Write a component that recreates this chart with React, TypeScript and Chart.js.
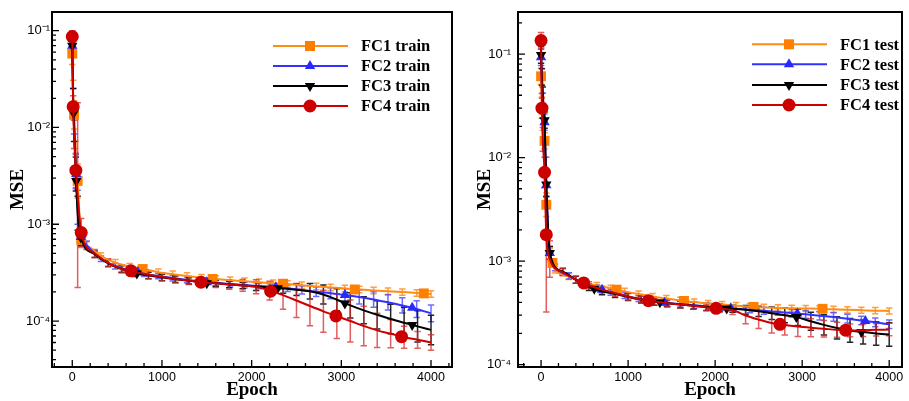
import React, { useEffect, useRef } from "react";
import { Chart, registerables } from "chart.js";

Chart.register(...registerables);

// ---------------- data ----------------
const EPOCHS_A = [0, 10, 20, 40, 60, 100, 160, 320, 480, 640, 800, 960, 1120, 1280, 1440, 1600, 1760, 1920, 2080, 2240, 2400, 2560, 2720, 2880, 3040, 3200, 3360, 3520, 3680, 3840, 4000];
const EPOCHS_B = [0, 10, 20, 40, 60, 100, 250, 400, 550, 700, 850, 1000, 1150, 1300, 1450, 1600, 1750, 1900, 2050, 2200, 2350, 2500, 2650, 2800, 2950, 3100, 3250, 3400, 3550, 3700, 3850, 4000];

const X_TICKS = [0, 1000, 2000, 3000, 4000];
const Y_TICKS = [1e-4, 1e-3, 1e-2, 1e-1];
const SERIES_NAMES = ["FC1", "FC2", "FC3", "FC4"];

// train MSE
const TRAIN_FC1 = [0.058, 0.022, 0.0135, 0.0048, 0.0028, 6.9e-4, 6.0e-4, 4.7e-4, 4.0e-4, 3.65e-4, 3.45e-4, 3.2e-4, 3.05e-4, 2.92e-4, 2.8e-4, 2.72e-4, 2.64e-4, 2.57e-4, 2.51e-4, 2.46e-4, 2.41e-4, 2.34e-4, 2.28e-4, 2.22e-4, 2.17e-4, 2.12e-4, 2.07e-4, 2.03e-4, 1.99e-4, 1.95e-4, 1.9e-4];
const TRAIN_FC2 = [0.07, 0.018, 0.012, 0.0035, 0.0015, 7.5e-4, 6.1e-4, 4.4e-4, 3.7e-4, 3.33e-4, 3.08e-4, 2.92e-4, 2.78e-4, 2.66e-4, 2.56e-4, 2.48e-4, 2.41e-4, 2.35e-4, 2.3e-4, 2.25e-4, 2.18e-4, 2.09e-4, 2.01e-4, 1.94e-4, 1.86e-4, 1.77e-4, 1.67e-4, 1.56e-4, 1.45e-4, 1.33e-4, 1.2e-4];
const TRAIN_FC3 = [0.07, 0.018, 0.01, 0.0033, 0.0013, 7.2e-4, 4.9e-4, 3.95e-4, 3.45e-4, 3.12e-4, 2.95e-4, 2.82e-4, 2.7e-4, 2.6e-4, 2.52e-4, 2.45e-4, 2.39e-4, 2.33e-4, 2.28e-4, 2.22e-4, 2.17e-4, 2.11e-4, 2.03e-4, 1.88e-4, 1.66e-4, 1.45e-4, 1.29e-4, 1.16e-4, 1.05e-4, 9.6e-5, 8.8e-5, 8.1e-5];
const TRAIN_FC4 = [0.087, 0.0164, 0.0085, 0.0036, 0.002, 8.2e-4, 5.0e-4, 4.0e-4, 3.45e-4, 3.2e-4, 3.0e-4, 2.86e-4, 2.72e-4, 2.62e-4, 2.52e-4, 2.45e-4, 2.39e-4, 2.33e-4, 2.26e-4, 2.06e-4, 1.85e-4, 1.63e-4, 1.43e-4, 1.26e-4, 1.12e-4, 1.0e-4, 8.9e-5, 8.0e-5, 7.4e-5, 6.8e-5, 6.4e-5, 6.0e-5];

// train error-bar spread (multiplicative factor)
const TRAIN_FC1_ERR = [1.3, 1.4, 1.4, 1.5, 1.5, 1.2, 1.1, 1.08, 1.08, 1.08, 1.08, 1.08, 1.08, 1.08, 1.08, 1.08, 1.08, 1.08, 1.08, 1.08, 1.08, 1.08, 1.08, 1.08, 1.08, 1.08, 1.08, 1.08, 1.08, 1.08, 1.08];
const TRAIN_FC2_ERR = [1.3, 1.4, 1.4, 1.5, 1.5, 1.2, 1.1, 1.07, 1.07, 1.07, 1.07, 1.07, 1.07, 1.07, 1.07, 1.07, 1.07, 1.07, 1.07, 1.07, 1.08, 1.1, 1.12, 1.14, 1.16, 1.18, 1.2, 1.2, 1.2, 1.22, 1.22];
const TRAIN_FC3_ERR = [1.3, 1.4, 1.4, 1.5, 1.5, 1.2, 1.08, 1.08, 1.08, 1.08, 1.08, 1.08, 1.08, 1.08, 1.08, 1.08, 1.08, 1.08, 1.1, 1.1, 1.12, 1.15, 1.2, 1.25, 1.3, 1.35, 1.38, 1.4, 1.42, 1.45, 1.45, 1.42];
const TRAIN_FC4_ERR = [1.15, 1.3, 1.4, 1.5, 9, 1.4, 1.1, 1.1, 1.1, 1.1, 1.1, 1.1, 1.1, 1.1, 1.1, 1.1, 1.12, 1.15, 1.18, 1.25, 1.4, 1.5, 1.6, 1.65, 1.7, 1.65, 1.6, 1.5, 1.4, 1.3, 1.22, 1.2];

// train symbol positions
const TRAIN_FC1_MX = [0, 20, 60, 100, 785, 1565, 2350, 3150, 3920];
const TRAIN_FC1_MY = [0.058, 0.0135, 0.0028, 6.9e-4, 3.45e-4, 2.72e-4, 2.43e-4, 2.12e-4, 1.93e-4];
const TRAIN_FC2_MX = [0, 15, 45, 95, 730, 1500, 2270, 3040, 3790];
const TRAIN_FC2_MY = [0.07, 0.016, 0.0033, 7.4e-4, 3.22e-4, 2.52e-4, 2.23e-4, 1.86e-4, 1.37e-4];
const TRAIN_FC3_MX = [0, 15, 45, 95, 720, 1500, 2290, 3040, 3790];
const TRAIN_FC3_MY = [0.07, 0.014, 0.0028, 7.3e-4, 3.1e-4, 2.45e-4, 2.18e-4, 1.52e-4, 9.1e-5];
const TRAIN_FC4_MX = [0, 10, 40, 100, 654, 1435, 2212, 2940, 3672];
const TRAIN_FC4_MY = [0.087, 0.0164, 0.0036, 8.2e-4, 3.3e-4, 2.52e-4, 2.03e-4, 1.13e-4, 6.9e-5];

// test MSE
const TEST_FC1 = [0.061, 0.032, 0.022, 0.0145, 0.0035, 1.15e-3, 8.3e-4, 7.1e-4, 6.3e-4, 5.8e-4, 5.45e-4, 5.1e-4, 4.8e-4, 4.55e-4, 4.35e-4, 4.17e-4, 4.02e-4, 3.9e-4, 3.8e-4, 3.71e-4, 3.63e-4, 3.57e-4, 3.53e-4, 3.5e-4, 3.48e-4, 3.46e-4, 3.42e-4, 3.38e-4, 3.35e-4, 3.32e-4, 3.3e-4];
const TEST_FC2 = [0.093, 0.05, 0.035, 0.022, 0.0054, 1.2e-3, 8.7e-4, 7.2e-4, 6.2e-4, 5.5e-4, 5.0e-4, 4.65e-4, 4.35e-4, 4.12e-4, 3.96e-4, 3.85e-4, 3.75e-4, 3.65e-4, 3.56e-4, 3.47e-4, 3.39e-4, 3.31e-4, 3.23e-4, 3.15e-4, 3.06e-4, 2.97e-4, 2.88e-4, 2.78e-4, 2.67e-4, 2.56e-4, 2.45e-4];
const TEST_FC3 = [0.098, 0.06, 0.04, 0.023, 0.0055, 1.2e-3, 7.9e-4, 6.6e-4, 5.6e-4, 5.1e-4, 4.8e-4, 4.5e-4, 4.25e-4, 4.05e-4, 3.92e-4, 3.8e-4, 3.7e-4, 3.6e-4, 3.52e-4, 3.46e-4, 3.38e-4, 3.27e-4, 3.13e-4, 3.0e-4, 2.86e-4, 2.62e-4, 2.42e-4, 2.26e-4, 2.14e-4, 2.06e-4, 2.0e-4, 1.95e-4];
const TEST_FC4 = [0.135, 0.03, 0.015, 0.0072, 0.0018, 1.05e-3, 7.8e-4, 6.6e-4, 5.85e-4, 5.3e-4, 4.9e-4, 4.55e-4, 4.25e-4, 4.06e-4, 3.92e-4, 3.8e-4, 3.7e-4, 3.57e-4, 3.47e-4, 3.36e-4, 2.98e-4, 2.72e-4, 2.52e-4, 2.41e-4, 2.33e-4, 2.27e-4, 2.22e-4, 2.17e-4, 2.14e-4, 2.15e-4, 2.17e-4, 2.18e-4];

const TEST_FC1_ERR = [1.2, 1.2, 1.2, 1.2, 1.3, 1.15, 1.08, 1.07, 1.07, 1.07, 1.07, 1.07, 1.07, 1.07, 1.07, 1.07, 1.07, 1.07, 1.07, 1.07, 1.07, 1.07, 1.07, 1.07, 1.07, 1.07, 1.07, 1.07, 1.07, 1.07, 1.07];
const TEST_FC2_ERR = [1.2, 1.2, 1.2, 1.2, 1.3, 1.15, 1.08, 1.07, 1.07, 1.07, 1.07, 1.07, 1.07, 1.07, 1.07, 1.07, 1.07, 1.07, 1.07, 1.07, 1.07, 1.08, 1.08, 1.09, 1.09, 1.1, 1.1, 1.1, 1.1, 1.1, 1.1];
const TEST_FC3_ERR = [1.2, 1.2, 1.2, 1.2, 1.3, 1.15, 1.08, 1.08, 1.08, 1.08, 1.08, 1.08, 1.08, 1.08, 1.08, 1.08, 1.08, 1.08, 1.08, 1.08, 1.1, 1.12, 1.15, 1.18, 1.2, 1.22, 1.25, 1.28, 1.3, 1.3, 1.3, 1.3];
const TEST_FC4_ERR = [1.2, 1.25, 1.3, 1.4, 5.6, 1.5, 1.08, 1.08, 1.08, 1.08, 1.08, 1.08, 1.08, 1.08, 1.08, 1.08, 1.08, 1.08, 1.08, 1.1, 1.2, 1.22, 1.25, 1.25, 1.25, 1.22, 1.2, 1.18, 1.15, 1.15, 1.15, 1.15];

const TEST_FC1_MX = [0, 40, 60, 131, 868, 1642, 2442, 3234];
const TEST_FC1_MY = [0.061, 0.0145, 0.0035, 9.6e-4, 5.3e-4, 4.12e-4, 3.61e-4, 3.46e-4];
const TEST_FC2_MX = [0, 40, 60, 100, 700, 1420, 2180, 2944, 3726];
const TEST_FC2_MY = [0.093, 0.022, 0.0054, 1.2e-3, 5.3e-4, 3.95e-4, 3.5e-4, 3.11e-4, 2.64e-4];
const TEST_FC3_MX = [0, 40, 60, 100, 611, 1366, 2133, 2933, 3681];
const TEST_FC3_MY = [0.098, 0.023, 0.0055, 1.2e-3, 5.4e-4, 4.0e-4, 3.48e-4, 2.88e-4, 2.07e-4];
const TEST_FC4_MX = [0, 10, 40, 60, 490, 1234, 2011, 2744, 3499];
const TEST_FC4_MY = [0.135, 0.03, 0.0072, 0.0018, 6.15e-4, 4.14e-4, 3.5e-4, 2.45e-4, 2.15e-4];

// ---------------- styles ----------------
const STYLES = [
  { line: "rgb(255,140,20)", marker: "rgb(255,128,0)", bar: "rgba(255,140,30,0.85)", shape: "square" },
  { line: "rgb(50,50,255)", marker: "rgb(40,40,255)", bar: "rgba(70,70,255,0.8)", shape: "up" },
  { line: "rgb(0,0,0)", marker: "rgb(0,0,0)", bar: "rgba(0,0,0,0.85)", shape: "down" },
  { line: "rgb(205,0,0)", marker: "rgb(205,0,0)", bar: "rgba(215,40,40,0.75)", shape: "circle" },
];

const SUP: Record<string, string> = { "-": "\u207B", "0": "\u2070", "1": "\u00B9", "2": "\u00B2", "3": "\u00B3", "4": "\u2074", "5": "\u2075" };
const supText = (n: number) => String(n).split("").map((c) => SUP[c] || c).join("");

type PanelDef = {
  suffix: string;
  epochs: number[][];
  values: number[][];
  spreads: number[][];
  mx: number[][];
  my: number[][];
  xMin: number;
  xMax: number;
  yMin: number;
  yMax: number;
  padRight: number;
  yWidth: number;
  yTickPad: number;
  titlePad: number;
  legend: { x1: number; x2: number; xm: number; xt: number; ys: number[] };
};

const TRAIN: PanelDef = {
  suffix: "train",
  epochs: [EPOCHS_A, EPOCHS_A, EPOCHS_B, EPOCHS_B],
  values: [TRAIN_FC1, TRAIN_FC2, TRAIN_FC3, TRAIN_FC4],
  spreads: [TRAIN_FC1_ERR, TRAIN_FC2_ERR, TRAIN_FC3_ERR, TRAIN_FC4_ERR],
  mx: [TRAIN_FC1_MX, TRAIN_FC2_MX, TRAIN_FC3_MX, TRAIN_FC4_MX],
  my: [TRAIN_FC1_MY, TRAIN_FC2_MY, TRAIN_FC3_MY, TRAIN_FC4_MY],
  xMin: -226,
  xMax: 4234,
  yMin: 3.35e-5,
  yMax: 0.156,
  padRight: 8,
  yWidth: 52,
  yTickPad: 2,
  titlePad: 9,
  legend: { x1: 273, x2: 348, xm: 310, xt: 361, ys: [46, 66, 86, 106] },
};

const TEST: PanelDef = {
  suffix: "test",
  epochs: [EPOCHS_A, EPOCHS_A, EPOCHS_B, EPOCHS_B],
  values: [TEST_FC1, TEST_FC2, TEST_FC3, TEST_FC4],
  spreads: [TEST_FC1_ERR, TEST_FC2_ERR, TEST_FC3_ERR, TEST_FC4_ERR],
  mx: [TEST_FC1_MX, TEST_FC2_MX, TEST_FC3_MX, TEST_FC4_MX],
  my: [TEST_FC1_MY, TEST_FC2_MY, TEST_FC3_MY, TEST_FC4_MY],
  xMin: -265,
  xMax: 4147,
  yMin: 9.48e-5,
  yMax: 0.255,
  padRight: 1,
  yWidth: 58,
  yTickPad: 7,
  titlePad: 15.5,
  legend: { x1: 292, x2: 367, xm: 329, xt: 380, ys: [44.3, 64.3, 85, 105] },
};

function drawShape(ctx: CanvasRenderingContext2D, shape: string, x: number, y: number, color: string) {
  ctx.fillStyle = color;
  ctx.beginPath();
  if (shape === "square") {
    ctx.rect(x - 5, y - 5, 10, 10);
  } else if (shape === "circle") {
    ctx.arc(x, y, 6.5, 0, Math.PI * 2);
  } else if (shape === "up") {
    const r = 6;
    ctx.moveTo(x, y - r);
    ctx.lineTo(x + r * 0.866, y + r / 2);
    ctx.lineTo(x - r * 0.866, y + r / 2);
    ctx.closePath();
  } else {
    const r = 6;
    ctx.moveTo(x, y + r);
    ctx.lineTo(x + r * 0.866, y - r / 2);
    ctx.lineTo(x - r * 0.866, y - r / 2);
    ctx.closePath();
  }
  ctx.fill();
}

function buildConfig(p: PanelDef): any {
  const datasets: any[] = [];
  SERIES_NAMES.forEach((name, k) => {
    const st = STYLES[k];
    datasets.push({
      type: "line",
      label: `${name} ${p.suffix}`,
      data: p.epochs[k].map((e, i) => ({ x: e, y: p.values[k][i] })),
      borderColor: st.line,
      backgroundColor: st.line,
      borderWidth: 2,
      pointRadius: 0,
      cubicInterpolationMode: "monotone",
      fill: false,
      order: 8 - k * 2,
      errSpread: p.spreads[k],
      errColor: st.bar,
    });
    const pointStyle = st.shape === "square" ? "rect" : st.shape === "circle" ? "circle" : "triangle";
    datasets.push({
      type: "line",
      label: `${name} ${p.suffix} symbols`,
      data: p.mx[k].map((e, i) => ({ x: e, y: p.my[k][i] })),
      showLine: false,
      pointStyle,
      pointRotation: st.shape === "down" ? 180 : 0,
      pointRadius: st.shape === "square" ? 7 : st.shape === "circle" ? 6.5 : 6,
      pointBackgroundColor: st.marker,
      pointBorderColor: st.marker,
      pointBorderWidth: 0,
      order: 7 - k * 2,
    });
  });

  const decoPlugin = {
    id: "deco" + p.suffix,
    beforeDatasetsDraw(chart: any) {
      const { ctx, chartArea: a, scales } = chart;
      const xs = scales.x;
      const ys = scales.y;
      ctx.save();
      ctx.beginPath();
      ctx.rect(a.left, a.top, a.right - a.left, a.bottom - a.top);
      ctx.clip();
      chart.data.datasets.forEach((ds: any) => {
        const spread: number[] | undefined = ds.errSpread;
        if (!spread) return;
        ctx.strokeStyle = ds.errColor;
        ctx.lineWidth = 1.5;
        ds.data.forEach((pt: any, i: number) => {
          const x = xs.getPixelForValue(pt.x);
          const yT = ys.getPixelForValue(pt.y * spread[i]);
          const yB = ys.getPixelForValue(pt.y / spread[i]);
          ctx.beginPath();
          ctx.moveTo(x, yT);
          ctx.lineTo(x, yB);
          ctx.moveTo(x - 3.2, yT);
          ctx.lineTo(x + 3.2, yT);
          ctx.moveTo(x - 3.2, yB);
          ctx.lineTo(x + 3.2, yB);
          ctx.stroke();
        });
      });
      ctx.restore();
    },
    afterDraw(chart: any) {
      const { ctx, chartArea: a, scales } = chart;
      const xs = scales.x;
      const ys = scales.y;
      ctx.save();
      ctx.strokeStyle = "#000";
      ctx.lineWidth = 1.3;
      ctx.beginPath();
      for (let e = -6; e <= 0; e++) {
        for (let m = 1; m <= 9; m++) {
          const v = m * Math.pow(10, e);
          if (v < ys.min || v > ys.max) continue;
          const y = ys.getPixelForValue(v);
          const len = m === 1 ? 7 : 4;
          ctx.moveTo(a.left, y);
          ctx.lineTo(a.left + len, y);
        }
      }
      for (let v = -400; v <= 4600; v += 200) {
        if (v < xs.min || v > xs.max) continue;
        const x = xs.getPixelForValue(v);
        const len = v % 1000 === 0 ? 7 : 4;
        ctx.moveTo(x, a.bottom);
        ctx.lineTo(x, a.bottom - len);
      }
      ctx.stroke();
      ctx.lineWidth = 2;
      ctx.strokeRect(a.left, a.top, a.right - a.left, a.bottom - a.top);

      // legend
      const L = p.legend;
      ctx.font = "bold 16.5px 'Liberation Serif', 'Times New Roman', serif";
      ctx.textBaseline = "middle";
      ctx.textAlign = "left";
      SERIES_NAMES.forEach((name, k) => {
        const st = STYLES[k];
        const y = L.ys[k];
        ctx.strokeStyle = st.line;
        ctx.lineWidth = 2;
        ctx.beginPath();
        ctx.moveTo(L.x1, y);
        ctx.lineTo(L.x2, y);
        ctx.stroke();
        drawShape(ctx, st.shape, L.xm, y, st.marker);
        ctx.fillStyle = "#000";
        ctx.fillText(`${name} ${p.suffix}`, L.xt, y + 1);
      });
      ctx.restore();
    },
  };

  return {
    type: "line",
    data: { datasets },
    plugins: [decoPlugin],
    options: {
      responsive: false,
      animation: false,
      devicePixelRatio: 1,
      layout: { padding: { left: 0, right: p.padRight, top: 12, bottom: 0 } },
      plugins: { legend: { display: false }, tooltip: { enabled: false } },
      scales: {
        x: {
          type: "linear",
          min: p.xMin,
          max: p.xMax,
          afterBuildTicks: (s: any) => {
            s.ticks = X_TICKS.map((v) => ({ value: v }));
          },
          afterFit: (s: any) => {
            s.height = 34;
            s.paddingLeft = 0;
            s.paddingRight = 0;
          },
          grid: { display: false, drawTicks: false },
          border: { display: false },
          ticks: {
            callback: (v: any) => String(v),
            color: "#000",
            padding: 3,
            maxRotation: 0,
            autoSkip: false,
            font: { family: "'Liberation Sans', Arial, sans-serif", size: 12.5 },
          },
          title: {
            display: true,
            text: "Epoch",
            color: "#000",
            font: { family: "'Liberation Serif', 'Times New Roman', serif", size: 19, weight: "bold", lineHeight: 1 },
            padding: { top: 0, bottom: 1 },
          },
        },
        y: {
          type: "logarithmic",
          min: p.yMin,
          max: p.yMax,
          afterBuildTicks: (s: any) => {
            s.ticks = Y_TICKS.map((v) => ({ value: v }));
          },
          afterFit: (s: any) => {
            s.width = p.yWidth;
            s.paddingTop = 0;
            s.paddingBottom = 0;
          },
          grid: { display: false, drawTicks: false },
          border: { display: false },
          ticks: {
            callback: (v: any) => "10" + supText(Math.round(Math.log10(Number(v)))),
            color: "#000",
            padding: p.yTickPad,
            autoSkip: false,
            font: { family: "'Liberation Sans', Arial, sans-serif", size: 13 },
          },
          title: {
            display: true,
            text: "MSE",
            color: "#000",
            font: { family: "'Liberation Serif', 'Times New Roman', serif", size: 19, weight: "bold", lineHeight: 1 },
            padding: { top: p.titlePad, bottom: 0 },
          },
        },
      },
    },
  };
}

function Panel({ def, left, width }: { def: PanelDef; left: number; width: number }) {
  const ref = useRef<HTMLCanvasElement>(null);
  useEffect(() => {
    if (!ref.current) return;
    const chart = new Chart(ref.current, buildConfig(def));
    return () => chart.destroy();
  }, [def]);
  return (
    <canvas
      ref={ref}
      width={width}
      height={401}
      style={{ position: "absolute", left, top: 0, width, height: 401 }}
    />
  );
}

export default function App() {
  return (
    <div style={{ position: "absolute", left: 0, top: 0, width: 909, height: 401, background: "#fff", overflow: "hidden" }}>
      <Panel def={TRAIN} left={0} width={460} />
      <Panel def={TEST} left={460} width={449} />
    </div>
  );
}
